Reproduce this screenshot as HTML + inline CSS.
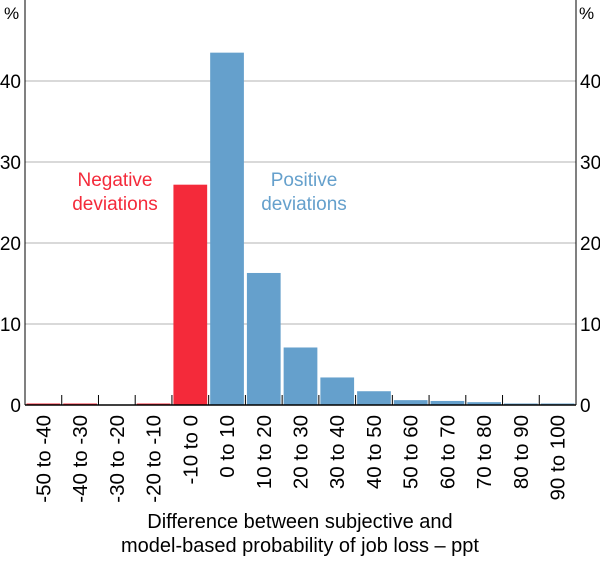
<!DOCTYPE html>
<html><head><meta charset="utf-8"><style>
body{margin:0;background:#fff;font-family:"Liberation Sans",sans-serif}
svg text{font-family:"Liberation Sans",sans-serif}
</style></head><body>
<svg id="c" width="600" height="558" xmlns="http://www.w3.org/2000/svg"></svg>
<script>
const categories=["-50 to -40","-40 to -30","-30 to -20","-20 to -10","-10 to 0","0 to 10","10 to 20","20 to 30","30 to 40","40 to 50","50 to 60","60 to 70","70 to 80","80 to 90","90 to 100"];
const values=[0.15,0.15,0,0.1,27.2,43.5,16.3,7.1,3.4,1.7,0.6,0.5,0.35,0.1,0.1];
const negative=[1,1,1,1,1,0,0,0,0,0,0,0,0,0,0];
const yTicks=[0,10,20,30,40];
const svg=document.getElementById('c');
const NS='http://www.w3.org/2000/svg';
const L=25,R=576,B=405,T=0,PPU=8.1;
const y=v=>B-v*PPU;
const bw=(R-L)/categories.length;
const x=i=>L+i*bw;
function mk(t,a,txt){const e=document.createElementNS(NS,t);for(const k in a)e.setAttribute(k,a[k]);if(txt!==undefined)e.textContent=txt;svg.appendChild(e);return e;}
yTicks.forEach(v=>{
 if(v>0){const g=mk('line',{x1:L,x2:R,y1:y(v),y2:y(v),stroke:'#b3b3b3','stroke-width':1});
 
 }
 const a=mk('text',{x:L-4,y:y(v)+7,'text-anchor':'end','font-size':19,fill:'#000'},v);
 
 
 const b=mk('text',{x:R+4,y:y(v)+7,'text-anchor':'start','font-size':19,fill:'#000'},v);
 
 
});
let u=mk('text',{x:4,y:19,'font-size':17},'%');
u=mk('text',{x:579,y:19,'font-size':17},'%');
values.forEach((v,i)=>{
 const h=Math.max(v*PPU,v>0?1.5:0);
 const r=mk('rect',{x:x(i)+1.5,y:B-h,width:bw-3,height:h,fill:negative[i]?'#f42a3a':'#65a0cc'});
 
 
 const cx=x(i)+bw/2;
 const t=mk('text',{x:0,y:0,'font-size':20.5,'text-anchor':'end',transform:`translate(${cx+7},${B+10}) rotate(-90)`},categories[i]);
 
 
});
for(let i=1;i<categories.length;i++){const tk=mk('line',{x1:x(i),x2:x(i),y1:B,y2:B-10,stroke:'#000','stroke-width':1});
 
 }
let ax=mk('line',{x1:L,x2:R,y1:B,y2:B,stroke:'#000','stroke-width':1.5});
ax=mk('line',{x1:L,x2:L,y1:T,y2:B,stroke:'#000','stroke-width':1});
ax=mk('line',{x1:R,x2:R,y1:T,y2:B,stroke:'#000','stroke-width':1});
let a=mk('text',{x:115,y:186,'font-size':19,fill:'#f42a3a','text-anchor':'middle'},'Negative');
a=mk('text',{x:115,y:210,'font-size':19,fill:'#f42a3a','text-anchor':'middle'},'deviations');
a=mk('text',{x:304,y:186,'font-size':19,fill:'#65a0cc','text-anchor':'middle'},'Positive');
a=mk('text',{x:304,y:210,'font-size':19,fill:'#65a0cc','text-anchor':'middle'},'deviations');
a=mk('text',{x:300,y:528,'font-size':20,'text-anchor':'middle'},'Difference between subjective and');
a=mk('text',{x:300,y:552,'font-size':20,'text-anchor':'middle'},'model-based probability of job loss – ppt');
</script>
</body></html>
